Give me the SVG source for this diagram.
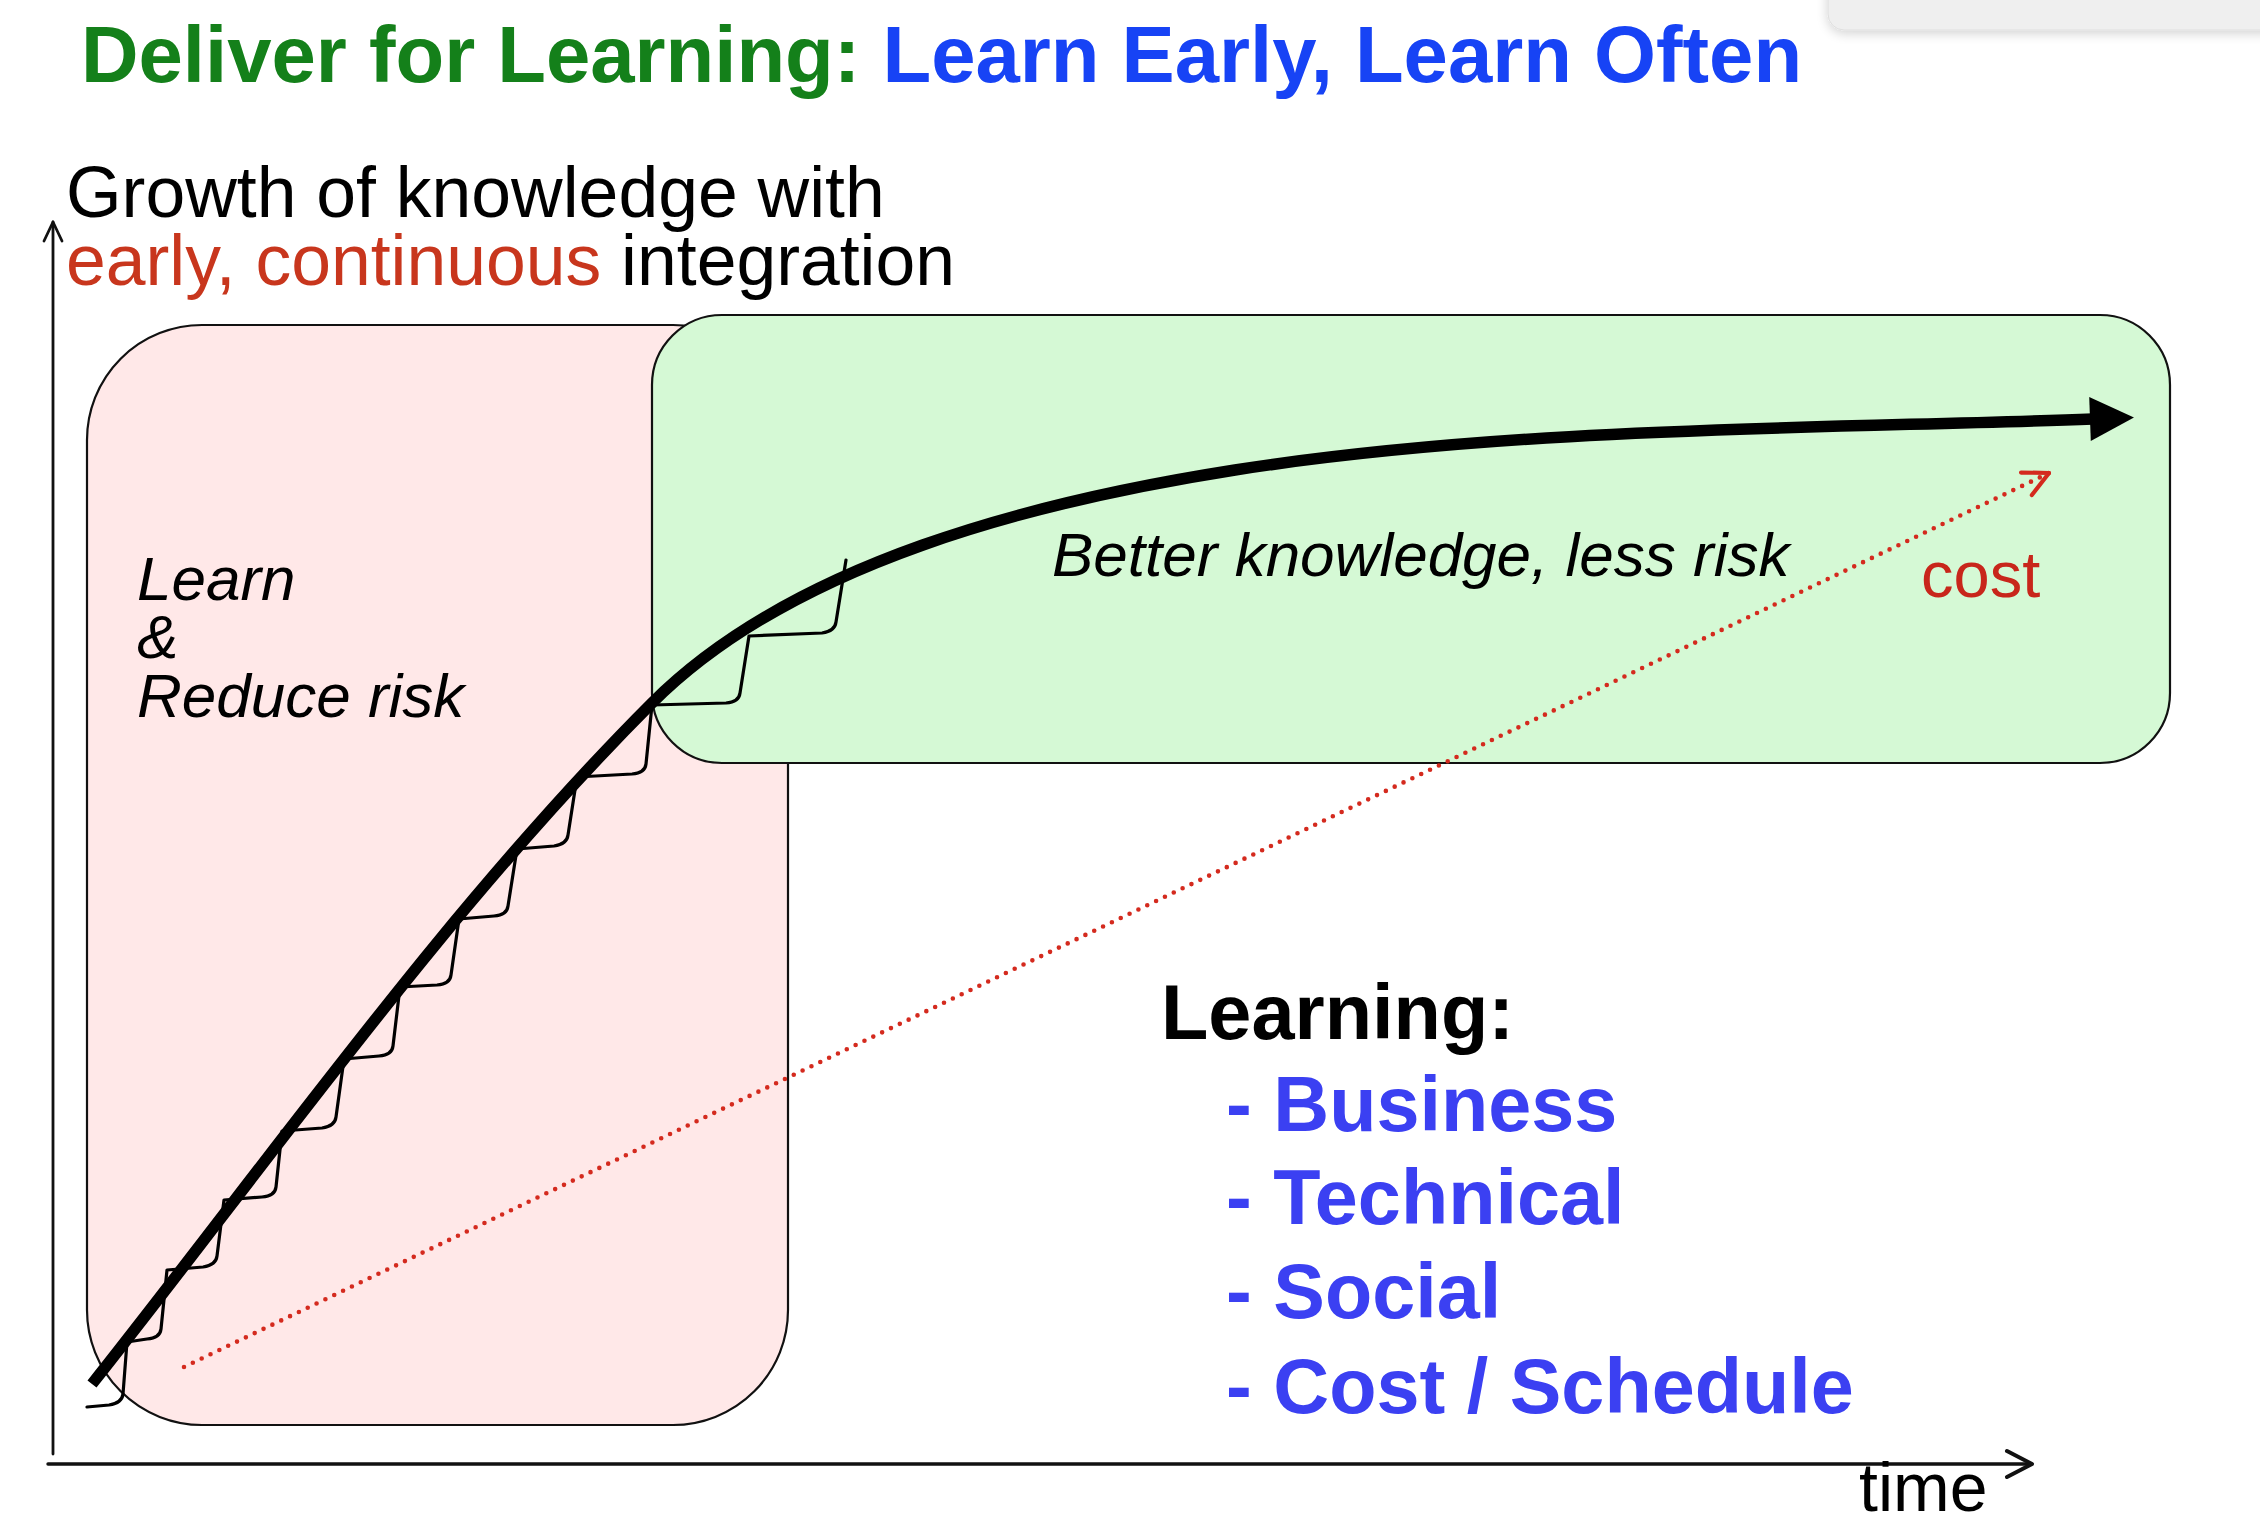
<svg xmlns="http://www.w3.org/2000/svg" width="2260" height="1520" viewBox="0 0 2260 1520">
  <style>
    .sans { font-family: "Liberation Sans", Arial, sans-serif; }
    .title { font-size: 79.7px; font-weight: bold; }
    .axis { fill: none; stroke: #111; stroke-linecap: round; stroke-linejoin: round; }
    .box { stroke: #111; stroke-width: 2.2; }
    .it { font-style: italic; font-size: 62px; fill: #000; }
    .list { font-size: 77.4px; font-weight: bold; fill: #3B40F2; }
  </style>
  <defs>
    <filter id="shadow" x="-10%" y="-50%" width="120%" height="250%">
      <feGaussianBlur in="SourceAlpha" stdDeviation="6"/>
      <feOffset dy="3" result="b"/>
      <feComponentTransfer><feFuncA type="linear" slope="0.18"/></feComponentTransfer>
      <feMerge><feMergeNode/><feMergeNode in="SourceGraphic"/></feMerge>
    </filter>
    <marker id="bigHead" markerUnits="userSpaceOnUse" viewBox="0 0 44 44" markerWidth="44" markerHeight="44" refX="3" refY="22" orient="auto" overflow="visible">
      <path d="M0,0 L44,22 L0,44 Z" fill="#000"/>
    </marker>
    <marker id="redHead" markerUnits="userSpaceOnUse" viewBox="0 0 26 26" markerWidth="26" markerHeight="26" refX="25" refY="13" orient="auto" overflow="visible">
      <path d="M0,0.5 L25,13 L0,25.5" fill="none" stroke="#D42A1E" stroke-width="4.2" stroke-linecap="round" stroke-linejoin="round"/>
    </marker>
  </defs>

  <rect width="2260" height="1520" fill="#ffffff"/>

  <!-- top-right overlay panel -->
  <g id="panel">
    <rect x="1828" y="-30" width="470" height="60" rx="16" fill="#efefef" stroke="#dedede" stroke-width="1" filter="url(#shadow)"/>
  </g>

  <!-- title -->
  <g id="title">
    <text class="sans title" x="81" y="82" fill="#14801A">Deliver for Learning: <tspan fill="#1743F5">Learn Early, Learn Often</tspan></text>
  </g>

  <!-- axes -->
  <g id="axes">
    <line class="axis" x1="53" y1="222" x2="53" y2="1454" stroke-width="2.8"/>
    <polyline class="axis" points="44,241 53,222 62,241" stroke-width="2.8"/>
    <line class="axis" x1="48" y1="1464" x2="2031" y2="1464" stroke-width="3.4"/>
    <polyline class="axis" points="2007,1451 2032,1464 2007,1477" stroke-width="4"/>
  </g>

  <g id="y-label">
    <text class="sans" x="66" y="217" font-size="71.5" fill="#000">Growth of knowledge with</text>
    <text class="sans" x="66" y="285" font-size="71.5" fill="#000"><tspan fill="#C8361D">early, continuous</tspan> integration</text>
  </g>

  <!-- regions -->
  <g id="learn-region">
    <rect class="box" x="87" y="325" width="701" height="1100" rx="115" ry="115" fill="#FFE8E8"/>
    <text class="sans it" x="137" y="600">Learn</text>
    <text class="sans it" x="137" y="658">&amp;</text>
    <text class="sans it" x="137" y="717">Reduce risk</text>
  </g>

  <g id="better-region">
    <rect class="box" x="652" y="315" width="1518" height="448" rx="70" ry="70" fill="#D5F9D5"/>
  </g>

  <!-- connectors / curves -->
  <g id="connectors">
    <path id="staircase" fill="none" stroke="#000" stroke-width="3.2" stroke-linejoin="round" stroke-linecap="round"
      d="M846,560 L836,622 Q835,631 822,633 L749,636
         L740,693 Q739,702 726,703 L652,705
         L646,764 Q645,773 632,774 L577,777
         L568,835 Q567,844 554,846 L517,849
         L508,906 Q507,915 494,916 L459,919
         L451,975 Q450,984 437,985 L400,987
         L393,1046 Q392,1055 379,1056 L344,1059
         L336,1117 Q335,1126 322,1128 L282,1131
         L276,1187 Q275,1196 262,1197 L224,1200
         L217,1256 Q216,1265 203,1267 L167,1270
         L161,1329 Q160,1338 147,1339 L127,1342
         L123,1394 Q122,1403 109,1405 L87,1407"/>
    <path id="cost-line" d="M184,1367 L2049,473" fill="none" stroke="#D42A1E" stroke-width="4.6" stroke-linecap="round" stroke-dasharray="0 9.8" marker-end="url(#redHead)"/>
    <path id="knowledge-curve" d="M92,1384 C272,1157 447,908 652,703 C793,562 1037,501 1235,470 C1512,427 1811,429 2093,419" fill="none" stroke="#000" stroke-width="11.5" marker-end="url(#bigHead)"/>
  </g>

  <g id="labels">
    <text class="sans it" x="1052" y="576">Better knowledge, less risk</text>
    <text class="sans" x="1921" y="597" font-size="65" fill="#C8261B">cost</text>
  </g>

  <g id="learning-list">
    <text class="sans" x="1161" y="1039" font-size="77.5" font-weight="bold" fill="#000">Learning:</text>
    <text class="sans list" x="1226" y="1131">- Business</text>
    <text class="sans list" x="1226" y="1224">- Technical</text>
    <text class="sans list" x="1226" y="1318">- Social</text>
    <text class="sans list" x="1226" y="1413">- Cost / Schedule</text>
  </g>

  <g id="x-label">
    <text class="sans" x="1859" y="1511" font-size="68" fill="#000">time</text>
  </g>
</svg>
